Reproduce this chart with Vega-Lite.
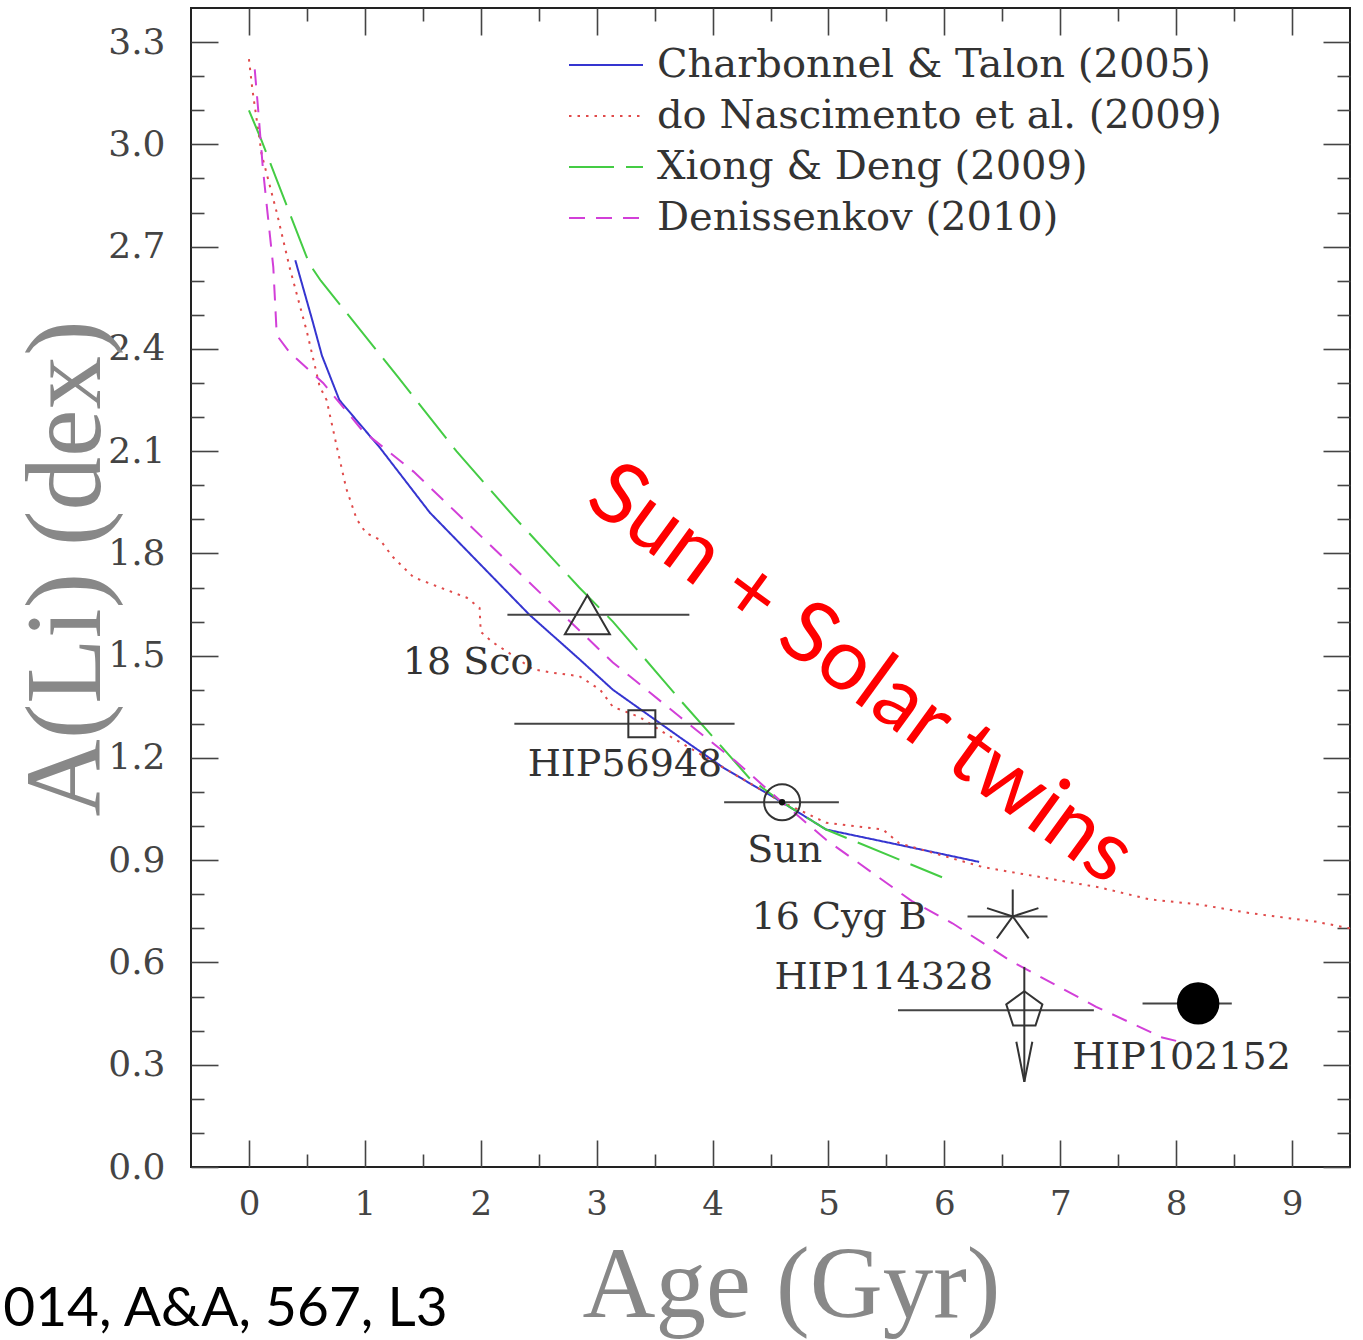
{
  "$schema": "https://vega.github.io/schema/vega-lite/v6.json",
  "width": 1159,
  "height": 1159,
  "autosize": {"type": "none"},
  "padding": {"left": 191, "top": 8, "right": 13, "bottom": 173},
  "background": "white",
  "config": {
    "view": {"stroke": "#222", "strokeWidth": 2},
    "axis": {
      "domain": false,
      "grid": false,
      "tickColor": "#444",
      "tickWidth": 1.6,
      "labelFont": "DejaVu Serif",
      "labelFontSize": 36,
      "labelColor": "#444",
      "titleFont": "Liberation Serif",
      "titleFontSize": 107,
      "titleFontWeight": "normal",
      "titleColor": "#888"
    }
  },
  "datasets": {
    "curves": [
      {"model": "Charbonnel & Talon (2005)", "age": 0.40, "ali": 2.66},
      {"model": "Charbonnel & Talon (2005)", "age": 0.55, "ali": 2.48},
      {"model": "Charbonnel & Talon (2005)", "age": 0.63, "ali": 2.38},
      {"model": "Charbonnel & Talon (2005)", "age": 0.78, "ali": 2.25},
      {"model": "Charbonnel & Talon (2005)", "age": 1.13, "ali": 2.11},
      {"model": "Charbonnel & Talon (2005)", "age": 1.56, "ali": 1.92},
      {"model": "Charbonnel & Talon (2005)", "age": 1.99, "ali": 1.77},
      {"model": "Charbonnel & Talon (2005)", "age": 2.42, "ali": 1.62},
      {"model": "Charbonnel & Talon (2005)", "age": 2.85, "ali": 1.49},
      {"model": "Charbonnel & Talon (2005)", "age": 3.14, "ali": 1.40},
      {"model": "Charbonnel & Talon (2005)", "age": 3.72, "ali": 1.26},
      {"model": "Charbonnel & Talon (2005)", "age": 4.10, "ali": 1.17},
      {"model": "Charbonnel & Talon (2005)", "age": 4.60, "ali": 1.07},
      {"model": "Charbonnel & Talon (2005)", "age": 4.98, "ali": 0.99},
      {"model": "Charbonnel & Talon (2005)", "age": 5.61, "ali": 0.945},
      {"model": "Charbonnel & Talon (2005)", "age": 6.30, "ali": 0.895},

      {"model": "do Nascimento et al. (2009)", "age": 0.00, "ali": 3.25},
      {"model": "do Nascimento et al. (2009)", "age": 0.03, "ali": 3.16},
      {"model": "do Nascimento et al. (2009)", "age": 0.11, "ali": 2.97},
      {"model": "do Nascimento et al. (2009)", "age": 0.24, "ali": 2.80},
      {"model": "do Nascimento et al. (2009)", "age": 0.35, "ali": 2.64},
      {"model": "do Nascimento et al. (2009)", "age": 0.50, "ali": 2.45},
      {"model": "do Nascimento et al. (2009)", "age": 0.61, "ali": 2.29},
      {"model": "do Nascimento et al. (2009)", "age": 0.67, "ali": 2.25},
      {"model": "do Nascimento et al. (2009)", "age": 0.76, "ali": 2.11},
      {"model": "do Nascimento et al. (2009)", "age": 0.84, "ali": 1.99},
      {"model": "do Nascimento et al. (2009)", "age": 0.93, "ali": 1.90},
      {"model": "do Nascimento et al. (2009)", "age": 1.01, "ali": 1.86},
      {"model": "do Nascimento et al. (2009)", "age": 1.13, "ali": 1.84},
      {"model": "do Nascimento et al. (2009)", "age": 1.24, "ali": 1.79},
      {"model": "do Nascimento et al. (2009)", "age": 1.42, "ali": 1.73},
      {"model": "do Nascimento et al. (2009)", "age": 1.65, "ali": 1.70},
      {"model": "do Nascimento et al. (2009)", "age": 1.88, "ali": 1.67},
      {"model": "do Nascimento et al. (2009)", "age": 1.99, "ali": 1.64},
      {"model": "do Nascimento et al. (2009)", "age": 2.00, "ali": 1.57},
      {"model": "do Nascimento et al. (2009)", "age": 2.10, "ali": 1.54},
      {"model": "do Nascimento et al. (2009)", "age": 2.28, "ali": 1.50},
      {"model": "do Nascimento et al. (2009)", "age": 2.45, "ali": 1.46},
      {"model": "do Nascimento et al. (2009)", "age": 2.62, "ali": 1.45},
      {"model": "do Nascimento et al. (2009)", "age": 2.85, "ali": 1.44},
      {"model": "do Nascimento et al. (2009)", "age": 3.03, "ali": 1.40},
      {"model": "do Nascimento et al. (2009)", "age": 3.14, "ali": 1.35},
      {"model": "do Nascimento et al. (2009)", "age": 3.37, "ali": 1.32},
      {"model": "do Nascimento et al. (2009)", "age": 3.60, "ali": 1.27},
      {"model": "do Nascimento et al. (2009)", "age": 3.90, "ali": 1.21},
      {"model": "do Nascimento et al. (2009)", "age": 4.30, "ali": 1.13},
      {"model": "do Nascimento et al. (2009)", "age": 4.60, "ali": 1.07},
      {"model": "do Nascimento et al. (2009)", "age": 4.75, "ali": 1.047},
      {"model": "do Nascimento et al. (2009)", "age": 4.98, "ali": 1.01},
      {"model": "do Nascimento et al. (2009)", "age": 5.47, "ali": 0.99},
      {"model": "do Nascimento et al. (2009)", "age": 5.61, "ali": 0.95},
      {"model": "do Nascimento et al. (2009)", "age": 6.33, "ali": 0.88},
      {"model": "do Nascimento et al. (2009)", "age": 7.34, "ali": 0.82},
      {"model": "do Nascimento et al. (2009)", "age": 7.77, "ali": 0.785},
      {"model": "do Nascimento et al. (2009)", "age": 8.20, "ali": 0.77},
      {"model": "do Nascimento et al. (2009)", "age": 8.63, "ali": 0.745},
      {"model": "do Nascimento et al. (2009)", "age": 9.20, "ali": 0.72},
      {"model": "do Nascimento et al. (2009)", "age": 9.50, "ali": 0.70},

      {"model": "Xiong & Deng (2009)", "age": 0.00, "ali": 3.10},
      {"model": "Xiong & Deng (2009)", "age": 0.11, "ali": 3.01},
      {"model": "Xiong & Deng (2009)", "age": 0.52, "ali": 2.65},
      {"model": "Xiong & Deng (2009)", "age": 0.62, "ali": 2.60},
      {"model": "Xiong & Deng (2009)", "age": 1.28, "ali": 2.32},
      {"model": "Xiong & Deng (2009)", "age": 1.79, "ali": 2.10},
      {"model": "Xiong & Deng (2009)", "age": 2.28, "ali": 1.91},
      {"model": "Xiong & Deng (2009)", "age": 2.85, "ali": 1.70},
      {"model": "Xiong & Deng (2009)", "age": 3.14, "ali": 1.60},
      {"model": "Xiong & Deng (2009)", "age": 3.57, "ali": 1.43},
      {"model": "Xiong & Deng (2009)", "age": 3.72, "ali": 1.37},
      {"model": "Xiong & Deng (2009)", "age": 4.32, "ali": 1.14},
      {"model": "Xiong & Deng (2009)", "age": 4.60, "ali": 1.07},
      {"model": "Xiong & Deng (2009)", "age": 4.98, "ali": 0.99},
      {"model": "Xiong & Deng (2009)", "age": 5.98, "ali": 0.85},

      {"model": "Denissenkov (2010)", "age": 0.05, "ali": 3.22},
      {"model": "Denissenkov (2010)", "age": 0.08, "ali": 3.10},
      {"model": "Denissenkov (2010)", "age": 0.12, "ali": 2.93},
      {"model": "Denissenkov (2010)", "age": 0.16, "ali": 2.80},
      {"model": "Denissenkov (2010)", "age": 0.21, "ali": 2.64},
      {"model": "Denissenkov (2010)", "age": 0.24, "ali": 2.44},
      {"model": "Denissenkov (2010)", "age": 0.35, "ali": 2.39},
      {"model": "Denissenkov (2010)", "age": 0.64, "ali": 2.30},
      {"model": "Denissenkov (2010)", "age": 0.98, "ali": 2.16},
      {"model": "Denissenkov (2010)", "age": 1.42, "ali": 2.04},
      {"model": "Denissenkov (2010)", "age": 1.85, "ali": 1.90},
      {"model": "Denissenkov (2010)", "age": 2.28, "ali": 1.76},
      {"model": "Denissenkov (2010)", "age": 2.71, "ali": 1.62},
      {"model": "Denissenkov (2010)", "age": 3.14, "ali": 1.48},
      {"model": "Denissenkov (2010)", "age": 3.72, "ali": 1.32},
      {"model": "Denissenkov (2010)", "age": 4.20, "ali": 1.19},
      {"model": "Denissenkov (2010)", "age": 4.60, "ali": 1.07},
      {"model": "Denissenkov (2010)", "age": 4.98, "ali": 0.96},
      {"model": "Denissenkov (2010)", "age": 5.72, "ali": 0.78},
      {"model": "Denissenkov (2010)", "age": 6.07, "ali": 0.715},
      {"model": "Denissenkov (2010)", "age": 6.56, "ali": 0.607},
      {"model": "Denissenkov (2010)", "age": 7.31, "ali": 0.47},
      {"model": "Denissenkov (2010)", "age": 7.88, "ali": 0.38},
      {"model": "Denissenkov (2010)", "age": 8.00, "ali": 0.37}
    ],
    "stars": [
      {"star": "18 Sco", "age": 2.92, "lo": 2.23, "hi": 3.80, "ali": 1.62},
      {"star": "HIP56948", "age": 3.39, "lo": 2.29, "hi": 4.19, "ali": 1.30},
      {"star": "Sun", "age": 4.60, "lo": 4.10, "hi": 5.09, "ali": 1.07},
      {"star": "16 Cyg B", "age": 6.59, "lo": 6.20, "hi": 6.89, "ali": 0.735},
      {"star": "HIP114328", "age": 6.69, "lo": 5.60, "hi": 7.29, "ali": 0.46, "limit_from": 0.587, "limit_to": 0.25},
      {"star": "HIP102152", "age": 8.19, "lo": 7.71, "hi": 8.48, "ali": 0.48}
    ],
    "names": [
      {"name": "18 Sco", "age": 1.328, "ali": 1.446},
      {"name": "HIP56948", "age": 2.405, "ali": 1.147},
      {"name": "Sun", "age": 4.30, "ali": 0.894},
      {"name": "16 Cyg B", "age": 4.336, "ali": 0.698},
      {"name": "HIP114328", "age": 4.534, "ali": 0.522},
      {"name": "HIP102152", "age": 7.103, "ali": 0.287}
    ]
  },
  "layer": [
    {
      "data": {"name": "curves"},
      "mark": {"type": "line", "strokeWidth": 2},
      "encoding": {
        "x": {
          "field": "age", "type": "quantitative",
          "scale": {"domain": [-0.5, 9.5]},
          "axis": {
            "orient": "bottom", "values": [0, 1, 2, 3, 4, 5, 6, 7, 8, 9],
            "tickSize": -27, "labelPadding": 47, "labelFontSize": 34,
            "title": "Age (Gyr)", "titleX": 600, "titleY": 149, "titleFontSize": 101,
            "titleAlign": "center", "titleBaseline": "alphabetic"
          }
        },
        "y": {
          "field": "ali", "type": "quantitative",
          "scale": {"domain": [0, 3.4]},
          "axis": {
            "orient": "left", "values": [0, 0.3, 0.6, 0.9, 1.2, 1.5, 1.8, 2.1, 2.4, 2.7, 3.0, 3.3],
            "format": ".1f", "tickSize": -27, "labelPadding": 53,
            "title": "A(Li) (dex)", "titleX": -92, "titleY": 560, "titleAngle": 270,
            "titleAlign": "center", "titleBaseline": "alphabetic"
          }
        },
        "color": {
          "field": "model", "type": "nominal",
          "scale": {
            "domain": ["Charbonnel & Talon (2005)", "do Nascimento et al. (2009)", "Xiong & Deng (2009)", "Denissenkov (2010)"],
            "range": ["#3535d0", "#e04a4a", "#44cc44", "#d23fd8"]
          },
          "legend": {
            "orient": "none", "legendX": 377, "legendY": 34, "title": null,
            "symbolType": "stroke", "symbolSize": 5476, "symbolStrokeWidth": 2,
            "labelFont": "DejaVu Serif", "labelFontSize": 40, "labelColor": "#333",
            "labelOffset": 13, "rowPadding": 5, "clipHeight": 46, "labelLimit": 900
          }
        },
        "strokeDash": {
          "field": "model", "type": "nominal",
          "scale": {
            "domain": ["Charbonnel & Talon (2005)", "do Nascimento et al. (2009)", "Xiong & Deng (2009)", "Denissenkov (2010)"],
            "range": [[1, 0], [2.5, 6], [45, 12], [16, 11]]
          },
          "legend": {
            "orient": "none", "legendX": 377, "legendY": 34, "title": null,
            "symbolType": "stroke", "symbolSize": 5476, "symbolStrokeWidth": 2,
            "labelFont": "DejaVu Serif", "labelFontSize": 40, "labelColor": "#333",
            "labelOffset": 13, "rowPadding": 5, "clipHeight": 46, "labelLimit": 900
          }
        }
      }
    },
    {
      "data": {"name": "stars"},
      "mark": {"type": "rule", "color": "#444", "strokeWidth": 2},
      "encoding": {
        "x": {
          "field": "lo", "type": "quantitative",
          "scale": {"domain": [-0.5, 9.5]},
          "axis": {"orient": "bottom", "values": [0.5, 1.5, 2.5, 3.5, 4.5, 5.5, 6.5, 7.5, 8.5], "tickSize": -13, "labels": false, "title": null}
        },
        "x2": {"field": "hi"},
        "y": {
          "field": "ali", "type": "quantitative",
          "scale": {"domain": [0, 3.4]},
          "axis": {"orient": "left", "values": [0.1, 0.2, 0.4, 0.5, 0.7, 0.8, 1.0, 1.1, 1.3, 1.4, 1.6, 1.7, 1.9, 2.0, 2.2, 2.3, 2.5, 2.6, 2.8, 2.9, 3.1, 3.2], "tickSize": -13, "labels": false, "title": null}
        }
      }
    },
    {
      "data": {"name": "stars"},
      "transform": [{"filter": "datum.star === '18 Sco'"}],
      "mark": {"type": "point", "shape": "triangle-up", "size": 2025, "filled": false, "stroke": "#333", "strokeWidth": 2, "opacity": 1},
      "encoding": {
        "x": {
          "field": "age", "type": "quantitative",
          "scale": {"domain": [-0.5, 9.5]},
          "axis": {"orient": "top", "values": [0, 1, 2, 3, 4, 5, 6, 7, 8, 9], "tickSize": -27, "labels": false, "title": null}
        },
        "y": {
          "field": "ali", "type": "quantitative",
          "scale": {"domain": [0, 3.4]},
          "axis": {"orient": "right", "values": [0, 0.3, 0.6, 0.9, 1.2, 1.5, 1.8, 2.1, 2.4, 2.7, 3.0, 3.3], "tickSize": -27, "labels": false, "title": null}
        }
      }
    },
    {
      "data": {"name": "stars"},
      "transform": [{"filter": "datum.star === 'HIP56948'"}],
      "mark": {"type": "point", "shape": "square", "size": 729, "filled": false, "stroke": "#333", "strokeWidth": 2, "opacity": 1},
      "encoding": {
        "x": {
          "field": "age", "type": "quantitative",
          "scale": {"domain": [-0.5, 9.5]},
          "axis": {"orient": "top", "values": [0.5, 1.5, 2.5, 3.5, 4.5, 5.5, 6.5, 7.5, 8.5], "tickSize": -13, "labels": false, "title": null}
        },
        "y": {
          "field": "ali", "type": "quantitative",
          "scale": {"domain": [0, 3.4]},
          "axis": {"orient": "right", "values": [0.1, 0.2, 0.4, 0.5, 0.7, 0.8, 1.0, 1.1, 1.3, 1.4, 1.6, 1.7, 1.9, 2.0, 2.2, 2.3, 2.5, 2.6, 2.8, 2.9, 3.1, 3.2], "tickSize": -13, "labels": false, "title": null}
        }
      }
    },
    {
      "data": {"name": "stars"},
      "transform": [{"filter": "datum.star === 'Sun'"}],
      "mark": {"type": "point", "shape": "circle", "size": 1296, "filled": false, "stroke": "#333", "strokeWidth": 2, "opacity": 1},
      "encoding": {
        "x": {"field": "age", "type": "quantitative", "scale": {"domain": [-0.5, 9.5]}, "axis": null},
        "y": {"field": "ali", "type": "quantitative", "scale": {"domain": [0, 3.4]}, "axis": null}
      }
    },
    {
      "data": {"name": "stars"},
      "transform": [{"filter": "datum.star === 'Sun'"}],
      "mark": {"type": "point", "shape": "circle", "size": 40, "filled": true, "color": "#111", "opacity": 1},
      "encoding": {
        "x": {"field": "age", "type": "quantitative", "scale": {"domain": [-0.5, 9.5]}, "axis": null},
        "y": {"field": "ali", "type": "quantitative", "scale": {"domain": [0, 3.4]}, "axis": null}
      }
    },
    {
      "data": {"name": "stars"},
      "transform": [{"filter": "datum.star === '16 Cyg B'"}],
      "mark": {"type": "point", "shape": "M0,-1L0,0M0.951,-0.309L0,0M0.588,0.809L0,0M-0.588,0.809L0,0M-0.951,-0.309L0,0", "size": 2916, "filled": false, "stroke": "#333", "strokeWidth": 2, "opacity": 1},
      "encoding": {
        "x": {"field": "age", "type": "quantitative", "scale": {"domain": [-0.5, 9.5]}, "axis": null},
        "y": {"field": "ali", "type": "quantitative", "scale": {"domain": [0, 3.4]}, "axis": null}
      }
    },
    {
      "data": {"name": "stars"},
      "transform": [{"filter": "datum.star === 'HIP114328'"}],
      "mark": {"type": "rule", "color": "#333", "strokeWidth": 2},
      "encoding": {
        "x": {"field": "age", "type": "quantitative", "scale": {"domain": [-0.5, 9.5]}, "axis": null},
        "y": {"field": "limit_from", "type": "quantitative", "scale": {"domain": [0, 3.4]}, "axis": null},
        "y2": {"field": "limit_to"}
      }
    },
    {
      "data": {"name": "stars"},
      "transform": [{"filter": "datum.star === 'HIP114328'"}],
      "mark": {"type": "point", "shape": "M-0.4,-2L0,0L0.4,-2", "size": 1600, "filled": false, "stroke": "#333", "strokeWidth": 2, "opacity": 1},
      "encoding": {
        "x": {"field": "age", "type": "quantitative", "scale": {"domain": [-0.5, 9.5]}, "axis": null},
        "y": {"field": "limit_to", "type": "quantitative", "scale": {"domain": [0, 3.4]}, "axis": null}
      }
    },
    {
      "data": {"name": "stars"},
      "transform": [{"filter": "datum.star === 'HIP114328'"}],
      "mark": {"type": "point", "shape": "M0,-1L0.951,-0.309L0.588,0.809L-0.588,0.809L-0.951,-0.309Z", "size": 1444, "filled": false, "stroke": "#333", "strokeWidth": 2, "opacity": 1},
      "encoding": {
        "x": {"field": "age", "type": "quantitative", "scale": {"domain": [-0.5, 9.5]}, "axis": null},
        "y": {"field": "ali", "type": "quantitative", "scale": {"domain": [0, 3.4]}, "axis": null}
      }
    },
    {
      "data": {"name": "stars"},
      "transform": [{"filter": "datum.star === 'HIP102152'"}],
      "mark": {"type": "point", "shape": "circle", "size": 1800, "filled": true, "color": "#000", "opacity": 1},
      "encoding": {
        "x": {"field": "age", "type": "quantitative", "scale": {"domain": [-0.5, 9.5]}, "axis": null},
        "y": {"field": "ali", "type": "quantitative", "scale": {"domain": [0, 3.4]}, "axis": null}
      }
    },
    {
      "data": {"name": "names"},
      "mark": {"type": "text", "font": "DejaVu Serif", "fontSize": 38, "color": "#333", "align": "left", "baseline": "alphabetic"},
      "encoding": {
        "x": {"field": "age", "type": "quantitative", "scale": {"domain": [-0.5, 9.5]}, "axis": null},
        "y": {"field": "ali", "type": "quantitative", "scale": {"domain": [0, 3.4]}, "axis": null},
        "text": {"field": "name"}
      }
    },
    {
      "data": {"values": [{"note": "Sun + Solar twins"}]},
      "mark": {"type": "text", "font": "Lato", "fontSize": 86, "color": "#ff0000", "align": "center", "baseline": "middle", "angle": 36},
      "encoding": {
        "x": {"datum": 5.28, "type": "quantitative", "scale": {"domain": [-0.5, 9.5]}, "axis": null},
        "y": {"datum": 1.445, "type": "quantitative", "scale": {"domain": [0, 3.4]}, "axis": null},
        "text": {"field": "note"}
      }
    },
    {
      "data": {"values": [{"note": "014, A&A, 567, L3"}]},
      "mark": {"type": "text", "font": "Lato", "fontSize": 55, "color": "#000", "align": "left", "baseline": "alphabetic"},
      "encoding": {
        "x": {"datum": -2.12, "type": "quantitative", "scale": {"domain": [-0.5, 9.5]}, "axis": null},
        "y": {"datum": -0.467, "type": "quantitative", "scale": {"domain": [0, 3.4]}, "axis": null},
        "text": {"field": "note"}
      }
    }
  ],
  "resolve": {"axis": {"x": "independent", "y": "independent"}}
}
